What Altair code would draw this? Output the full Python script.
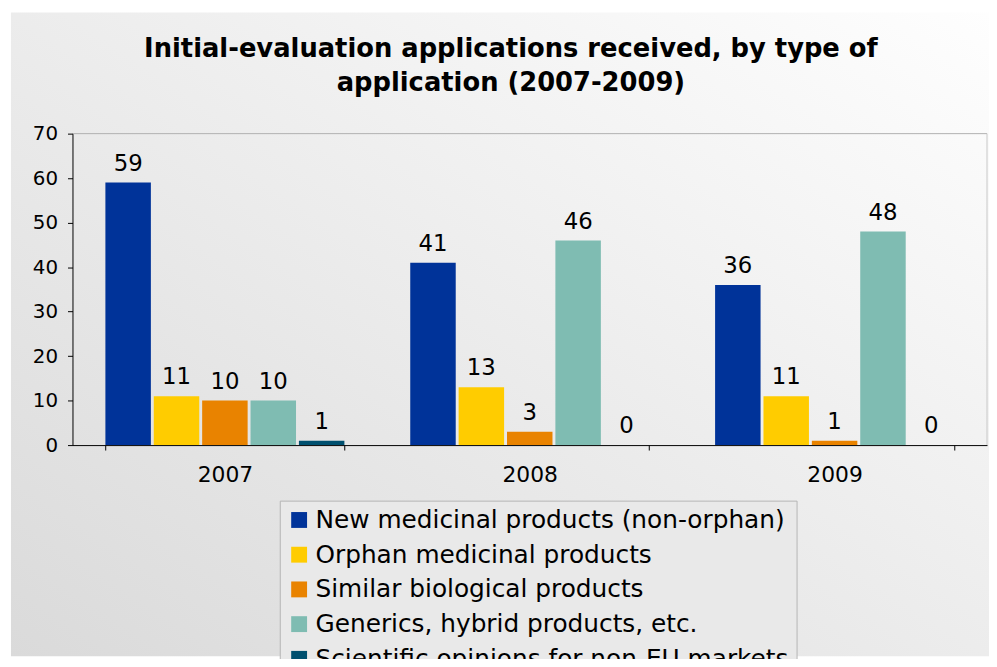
import altair as alt
import pandas as pd

years = ["2007", "2008", "2009"]
types = [
    "New medicinal products (non-orphan)",
    "Orphan medicinal products",
    "Similar biological products",
    "Generics, hybrid products, etc.",
    "Scientific opinions for non-EU markets",
]
new_medicinal = [59, 41, 36]
orphan = [11, 13, 11]
similar_bio = [10, 3, 1]
generics = [10, 46, 48]
scientific = [1, 0, 0]
colors = ["#003399", "#FFCC00", "#E98300", "#7FBCB2", "#00506F"]
title_text = "Initial-evaluation applications received, by type of\napplication (2007-2009)"

series = [new_medicinal, orphan, similar_bio, generics, scientific]
rows = []
for t, vals in zip(types, series):
    for y, v in zip(years, vals):
        rows.append({"year": y, "type": t, "value": v})
df = pd.DataFrame(rows)

FONT = "DejaVu Sans"
W, H = 922, 314

base = alt.Chart(df).encode(
    x=alt.X(
        "year:N",
        sort=years,
        scale=alt.Scale(paddingInner=0.216, paddingOuter=0.108),
        axis=alt.Axis(
            title=None, labelAngle=0, tickBand="extent", tickSize=5,
            tickColor="black", domainColor="black", labelColor="black",
            labelFont=FONT, labelFontSize=22, labelPadding=15, zindex=2,
        ),
    ),
    xOffset=alt.XOffset("type:N", sort=types, scale=alt.Scale(domain=types, paddingInner=0.06)),
)

bars = base.mark_bar().encode(
    y=alt.Y(
        "value:Q",
        scale=alt.Scale(domain=[0, 70], nice=False),
        axis=alt.Axis(
            title=None, values=list(range(0, 71, 10)), grid=False, tickSize=5,
            tickColor="black", domainColor="black", labelColor="black",
            labelFont=FONT, labelFontSize=20, labelPadding=10, zindex=2,
        ),
    ),
    color=alt.Color(
        "type:N",
        sort=types,
        scale=alt.Scale(domain=types, range=colors),
        legend=alt.Legend(
            title=None, orient="none", legendX=209, legendY=370,
            symbolType="square", symbolSize=256, symbolStrokeWidth=0,
            labelFont=FONT, labelFontSize=25, labelColor="black",
            labelLimit=700, labelOffset=4, rowPadding=9, padding=7,
            strokeColor="#b5b5b5", fillColor="#e9e9e9", zindex=2,
        ),
    ),
)

labels = base.mark_text(
    baseline="alphabetic", dy=-12, fontSize=23, font=FONT, color="black"
).encode(y="value:Q", text="value:Q")

bg = alt.Chart(alt.Data(values=[{}])).mark_rect(
    fill=alt.LinearGradient(
        gradient="linear",
        stops=[
            alt.GradientStop(color="#fefefe", offset=0),
            alt.GradientStop(color="#ececec", offset=0.5),
            alt.GradientStop(color="#dadada", offset=1),
        ],
        x1=1, y1=0, x2=0, y2=1,
    )
).encode(x=alt.value(-62), x2=alt.value(W + 2), y=alt.value(-122), y2=alt.value(H + 213))

title = alt.Chart(alt.Data(values=[{"t": title_text}])).mark_text(
    font=FONT, fontSize=26, fontWeight="bold", color="black",
    lineBreak="\n", lineHeight=34, baseline="alphabetic", align="center",
).encode(text="t:N", x=alt.value(442), y=alt.value(-77))

top_rule = alt.Chart(alt.Data(values=[{}])).mark_rule(color="#b0b0b0").encode(
    x=alt.value(0), x2=alt.value(W), y=alt.value(0)
)
right_rule = alt.Chart(alt.Data(values=[{}])).mark_rule(color="#c8c8c8").encode(
    x=alt.value(W), y=alt.value(0), y2=alt.value(H)
)

chart = alt.layer(bg, title, top_rule, right_rule, bars, labels).properties(
    width=W,
    height=H,
    autosize=alt.AutoSizeParams(type="none"),
    padding={"left": 65, "top": 124, "right": 2, "bottom": 213},
).configure_view(stroke=None)

chart.save("out.html", embed_options={"renderer": "svg", "actions": False})
